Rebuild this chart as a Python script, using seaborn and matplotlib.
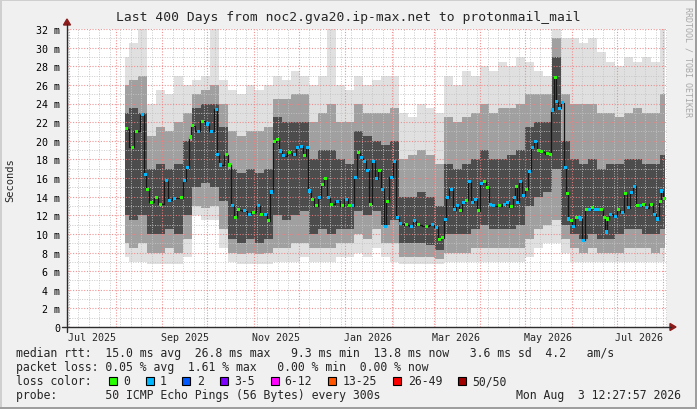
import numpy as np
import pandas as pd
import matplotlib
matplotlib.use("Agg")
import matplotlib.pyplot as plt
import matplotlib.dates as mdates
import seaborn as sns
from matplotlib.lines import Line2D
from matplotlib.patches import Rectangle, Polygon
from matplotlib.ticker import FixedLocator, NullFormatter

# ---------------- data ----------------
title = "Last 400 Days from noc2.gva20.ip-max.net to protonmail_mail"
range_start = "2025-06-29 12:27:57"
range_end = "2026-08-03 12:27:57"

# smoke (ping distribution) sampled every 6 days
smoke_dates = pd.date_range("2025-08-07", "2026-08-02", freq="6D")
smoke_min = [7.5, 7.0, 7.0, 6.8, 6.8, 6.8, 6.8, 7.5, 12.0, 11.5,
             11.5, 8.5, 7.0, 6.8, 6.8, 6.8, 6.8, 7.0, 7.0, 7.0,
             7.5, 7.0, 7.0, 7.0, 7.5, 7.5, 8.0, 7.5, 8.5, 7.5,
             7.0, 6.8, 6.8, 6.8, 6.8, 6.8, 7.0, 7.0, 7.0, 7.0,
             7.0, 7.0, 7.0, 7.0, 7.0, 7.5, 8.5, 9.0, 9.0, 8.0,
             7.0, 7.0, 7.0, 7.0, 7.0, 7.0, 7.0, 7.0, 7.0, 7.0, 7.0]
smoke_p10 = [9.0, 8.5, 9.0, 8.0, 8.0, 8.5, 8.0, 9.5, 13.0, 12.8,
             13.0, 10.5, 8.0, 7.8, 8.0, 7.8, 8.0, 8.5, 8.5, 9.0,
             9.0, 8.5, 8.5, 8.5, 9.0, 9.0, 10.0, 9.5, 10.5, 9.0,
             9.0, 7.5, 7.5, 7.5, 7.5, 7.3, 8.0, 8.0, 8.0, 8.5,
             8.5, 8.5, 8.5, 8.5, 8.5, 9.5, 10.5, 11.0, 11.5, 9.5,
             8.5, 8.0, 8.5, 8.0, 8.0, 8.0, 8.5, 8.5, 8.5, 8.0, 8.5]
smoke_p25 = [12.0, 11.5, 12.0, 10.0, 10.0, 10.5, 10.0, 12.0, 15.0, 15.5,
             15.0, 13.5, 9.5, 9.0, 9.5, 9.0, 9.5, 12.0, 11.5, 12.0,
             12.5, 10.0, 10.5, 10.0, 10.5, 10.5, 12.5, 12.0, 12.5, 11.0,
             11.5, 9.0, 9.0, 9.0, 8.8, 8.3, 10.0, 10.0, 10.0, 10.5,
             11.0, 10.5, 10.5, 10.5, 11.0, 13.0, 14.0, 14.5, 17.0, 11.0,
             10.0, 9.5, 10.0, 9.5, 9.5, 10.0, 10.5, 10.5, 10.0, 10.0, 10.5]
smoke_p75 = [23.0, 23.5, 23.0, 17.0, 17.5, 17.0, 17.5, 20.0, 23.5, 24.0,
             24.0, 21.5, 17.0, 16.5, 17.0, 16.5, 17.0, 22.5, 22.0, 22.0,
             22.0, 18.0, 19.0, 19.0, 18.0, 17.5, 21.0, 20.5, 20.0, 19.5,
             20.0, 14.0, 14.0, 14.5, 14.0, 13.0, 17.5, 17.0, 17.5, 18.0,
             19.0, 18.0, 18.0, 18.5, 19.0, 21.5, 22.0, 22.0, 29.0, 20.0,
             18.0, 17.5, 18.0, 17.0, 17.5, 17.5, 18.0, 18.0, 17.5, 17.5, 18.5]
smoke_p90 = [26.0, 26.5, 27.0, 20.5, 21.5, 21.0, 22.0, 23.0, 25.0, 25.5,
             26.0, 24.0, 21.0, 20.5, 21.0, 21.0, 21.5, 24.5, 24.5, 25.0,
             25.0, 22.0, 23.0, 24.0, 22.0, 22.0, 24.0, 23.0, 23.0, 23.0,
             23.5, 18.0, 18.5, 19.0, 18.5, 17.5, 22.5, 22.0, 22.5, 23.0,
             24.0, 23.0, 23.5, 23.5, 24.0, 25.0, 25.0, 25.0, 31.0, 25.0,
             24.0, 24.0, 24.0, 23.0, 23.0, 22.5, 23.0, 23.5, 23.0, 23.0, 25.0]
smoke_max = [29.0, 30.5, 32.0, 24.0, 25.5, 25.0, 27.0, 26.0, 26.5, 27.0,
             32.0, 26.5, 25.5, 25.0, 26.0, 25.5, 26.0, 27.0, 26.5, 27.5,
             27.0, 26.0, 27.0, 32.0, 26.0, 25.5, 27.0, 26.0, 26.5, 27.0,
             27.0, 23.0, 22.5, 24.0, 23.5, 23.0, 27.0, 26.0, 27.5, 27.0,
             28.0, 27.5, 28.5, 28.0, 29.0, 28.5, 27.5, 27.0, 32.0, 31.0,
             31.0, 30.5, 31.0, 29.5, 28.5, 28.0, 29.0, 28.5, 29.0, 28.5, 32.0]

# median rtt (ms) and number of lost pings
median_dates = [
    "2025-08-08", "2025-08-12", "2025-08-15", "2025-08-19", "2025-08-21", "2025-08-22", "2025-08-25", "2025-08-28", "2025-08-31", "2025-09-04",
    "2025-09-06", "2025-09-09", "2025-09-14", "2025-09-16", "2025-09-18", "2025-09-20", "2025-09-21", "2025-09-25", "2025-09-28", "2025-10-01",
    "2025-10-04", "2025-10-07", "2025-10-08", "2025-10-10", "2025-10-14", "2025-10-16", "2025-10-18", "2025-10-20", "2025-10-22", "2025-10-26",
    "2025-10-29", "2025-11-01", "2025-11-04", "2025-11-06", "2025-11-09", "2025-11-11", "2025-11-13", "2025-11-15", "2025-11-17", "2025-11-19",
    "2025-11-21", "2025-11-25", "2025-11-28", "2025-11-30", "2025-12-03", "2025-12-05", "2025-12-07", "2025-12-08", "2025-12-10", "2025-12-13",
    "2025-12-15", "2025-12-17", "2025-12-19", "2025-12-21", "2025-12-23", "2025-12-27", "2025-12-30", "2026-01-02", "2026-01-04", "2026-01-06",
    "2026-01-08", "2026-01-10", "2026-01-12", "2026-01-14", "2026-01-16", "2026-01-18", "2026-01-20", "2026-01-22", "2026-01-24", "2026-01-26",
    "2026-01-28", "2026-01-29", "2026-02-01", "2026-02-03", "2026-02-05", "2026-02-07", "2026-02-11", "2026-02-14", "2026-02-16", "2026-02-19",
    "2026-02-24", "2026-02-28", "2026-03-03", "2026-03-05", "2026-03-07", "2026-03-09", "2026-03-10", "2026-03-13", "2026-03-15", "2026-03-17",
    "2026-03-19", "2026-03-21", "2026-03-23", "2026-03-25", "2026-03-27", "2026-03-29", "2026-03-31", "2026-04-02", "2026-04-04", "2026-04-06",
    "2026-04-08", "2026-04-10", "2026-04-14", "2026-04-17", "2026-04-19", "2026-04-22", "2026-04-24", "2026-04-25", "2026-04-26", "2026-04-28",
    "2026-04-30", "2026-05-02", "2026-05-04", "2026-05-06", "2026-05-08", "2026-05-10", "2026-05-12", "2026-05-16", "2026-05-18", "2026-05-19",
    "2026-05-21", "2026-05-22", "2026-05-24", "2026-05-26", "2026-05-28", "2026-05-29", "2026-05-30", "2026-06-01", "2026-06-02", "2026-06-04",
    "2026-06-06", "2026-06-07", "2026-06-09", "2026-06-11", "2026-06-13", "2026-06-15", "2026-06-17", "2026-06-19", "2026-06-21", "2026-06-23",
    "2026-06-24", "2026-06-25", "2026-06-27", "2026-06-30", "2026-07-02", "2026-07-05", "2026-07-07", "2026-07-09", "2026-07-11", "2026-07-13",
    "2026-07-15", "2026-07-17", "2026-07-19", "2026-07-21", "2026-07-24", "2026-07-26", "2026-07-28", "2026-07-30", "2026-07-31", "2026-08-02",
]
median_ms = [
    21.3, 19.3, 21.0, 22.8, 16.4, 14.8, 13.4, 13.9, 13.2, 15.7,
    13.6, 13.8, 13.9, 15.7, 17.1, 20.4, 21.6, 21.0, 22.1, 21.8,
    21.0, 23.4, 18.5, 17.4, 18.5, 17.4, 13.0, 11.8, 12.6, 12.5,
    12.1, 12.3, 13.0, 12.1, 12.1, 11.4, 14.5, 19.9, 20.1, 18.9,
    18.4, 18.7, 18.5, 19.3, 19.4, 18.4, 19.3, 14.6, 13.7, 13.0,
    13.9, 15.3, 15.9, 13.9, 13.2, 13.5, 13.0, 13.7, 13.0, 13.0,
    16.1, 18.7, 18.2, 17.8, 16.8, 13.2, 17.8, 15.9, 16.8, 14.8,
    10.8, 13.5, 16.1, 17.8, 11.8, 11.1, 11.0, 10.8, 11.4, 11.0,
    10.8, 11.0, 10.7, 9.4, 9.6, 11.5, 13.9, 14.8, 12.6, 13.0,
    12.5, 13.4, 13.6, 15.6, 13.4, 13.7, 12.5, 15.4, 15.6, 15.0,
    13.2, 13.0, 13.0, 13.2, 13.4, 12.9, 13.9, 15.1, 13.4, 15.6,
    14.1, 14.8, 16.7, 19.3, 19.9, 19.0, 18.8, 18.6, 18.5, 23.3,
    26.8, 24.2, 23.5, 24.1, 17.1, 14.3, 11.6, 11.4, 10.8, 11.8,
    11.8, 11.6, 9.3, 12.6, 12.6, 12.8, 12.6, 12.6, 12.6, 11.8,
    10.2, 11.6, 12.1, 11.9, 12.6, 12.3, 14.3, 12.8, 14.4, 15.1,
    13.0, 13.0, 13.2, 12.8, 13.2, 12.1, 11.6, 13.5, 14.6, 13.8,
]
median_loss = [
    0, 0, 0, 1, 1, 0, 0, 0, 0, 1,
    1, 1, 0, 1, 1, 0, 0, 1, 0, 1,
    1, 1, 1, 1, 0, 0, 1, 0, 0, 1,
    1, 0, 1, 0, 1, 0, 1, 0, 0, 1,
    1, 0, 1, 1, 1, 0, 1, 1, 0, 0,
    1, 0, 0, 1, 0, 1, 0, 1, 0, 1,
    1, 0, 1, 1, 1, 0, 1, 1, 0, 1,
    1, 0, 1, 1, 1, 1, 0, 1, 1, 0,
    0, 1, 1, 0, 0, 1, 1, 1, 1, 1,
    0, 1, 0, 1, 1, 1, 0, 1, 0, 0,
    1, 1, 0, 1, 1, 0, 1, 0, 1, 1,
    1, 0, 1, 1, 1, 0, 0, 0, 0, 1,
    0, 1, 1, 1, 1, 0, 1, 0, 1, 0,
    1, 1, 1, 0, 1, 0, 1, 1, 0, 0,
    1, 0, 1, 1, 0, 1, 0, 1, 1, 1,
    0, 1, 0, 1, 0, 1, 1, 0, 1, 0,
]

y_ticks = list(range(0, 33, 2))
y_tick_labels = ["0"] + [f"{v} m" for v in y_ticks[1:]]
month_label_dates = ["2025-07-16", "2025-09-16", "2025-11-16", "2026-01-16",
                     "2026-03-16", "2026-05-16", "2026-07-16"]
month_labels = ["Jul 2025", "Sep 2025", "Nov 2025", "Jan 2026",
                "Mar 2026", "May 2026", "Jul 2026"]

loss_names = ["0", "1", "2", "3-5", "6-12", "13-25", "26-49", "50/50"]
loss_colors = ["#26ff00", "#00b8ff", "#0059ff", "#7e00ff",
               "#ff00ff", "#ff5500", "#ff0000", "#a00000"]

line_rtt = "median rtt:  15.0 ms avg  26.8 ms max   9.3 ms min  13.8 ms now   3.6 ms sd  4.2   am/s"
line_loss = "packet loss: 0.05 % avg  1.61 % max   0.00 % min  0.00 % now"
probe_text = "probe:       50 ICMP Echo Pings (56 Bytes) every 300s"
stamp_text = "Mon Aug  3 12:27:57 2026"

# ---------------- figure ----------------
sns.set_theme(style="white")
plt.rcParams["font.family"] = ["DejaVu Sans Mono", "DejaVu Sans"]

W, H = 697, 410
fig = plt.figure(figsize=(W / 100, H / 100), dpi=100, facecolor="#f0f0f0")

def fx(px):
    return px / W

def fy(py):
    return 1 - py / H

ax = fig.add_axes([fx(67), fy(328), 600 / W, 298 / H])
ax.set_facecolor("white")

sx = mdates.date2num(smoke_dates)
ax.fill_between(sx, smoke_min, smoke_max, step="mid", color="#e0e0e0", lw=0, zorder=1)
ax.fill_between(sx, smoke_p10, smoke_p90, step="mid", color="#a0a0a0", lw=0, zorder=1.1)
ax.fill_between(sx, smoke_p25, smoke_p75, step="mid", color="#4c4c4c", lw=0, zorder=1.2)

med = pd.DataFrame({"date": pd.to_datetime(median_dates), "ms": median_ms,
                    "loss": [loss_names[v] for v in median_loss]})
sns.lineplot(data=med, x="date", y="ms", ax=ax, color="#151515", lw=0.9,
             drawstyle="steps-mid", estimator=None, sort=False, zorder=3)
sns.scatterplot(data=med, x="date", y="ms", hue="loss", ax=ax,
                palette={loss_names[0]: loss_colors[0], loss_names[1]: loss_colors[1]},
                marker="s", s=5, linewidth=0, legend=False, zorder=4)

ax.set_xlim(pd.Timestamp(range_start), pd.Timestamp(range_end))
ax.set_ylim(0, 32)
ax.set_xlabel("")
ax.set_ylabel("")

# grid
ax.set_axisbelow(False)
ax.xaxis.set_major_locator(mdates.MonthLocator())
ax.xaxis.set_minor_locator(mdates.WeekdayLocator(byweekday=mdates.MO))
ax.xaxis.set_major_formatter(NullFormatter())
ax.yaxis.set_major_locator(FixedLocator(y_ticks))
ax.yaxis.set_minor_locator(FixedLocator(list(range(1, 32, 2))))
ax.set_yticklabels(y_tick_labels)
ax.grid(which="minor", color="#c4c4c4", linestyle=(0, (1, 1.5)), lw=0.7, alpha=0.9)
ax.grid(which="major", color="#f08080", linestyle=(0, (1, 1.5)), lw=0.8, alpha=0.85)
ax.tick_params(which="both", length=0)
ax.tick_params(axis="y", labelsize=7.2, pad=5, colors="black")
for s in ax.spines.values():
    s.set_visible(False)

for d, lab in zip(month_label_dates, month_labels):
    ax.text(mdates.date2num(pd.Timestamp(d)), -10 / 298 * 32, lab,
            ha="center", va="center", fontsize=7.2, clip_on=False)

# axes lines and arrows
axis_col = "#2c2c2c"
arrow_col = "#8c1c1c"
fig.add_artist(Line2D([fx(62), fx(671)], [fy(328), fy(328)], color=axis_col, lw=1.0,
                      transform=fig.transFigure))
fig.add_artist(Line2D([fx(67), fx(67)], [fy(333), fy(25)], color=axis_col, lw=1.0,
                      transform=fig.transFigure))
fig.add_artist(Polygon([[fx(670), fy(324.5)], [fx(676), fy(328)], [fx(670), fy(331.5)]],
                       closed=True, color=arrow_col, transform=fig.transFigure))
fig.add_artist(Polygon([[fx(63.5), fy(26)], [fx(67), fy(20)], [fx(70.5), fy(26)]],
                       closed=True, color=arrow_col, transform=fig.transFigure))

# texts
fig.text(fx(348.5), fy(18), title, ha="center", va="center", fontsize=9.4)
fig.text(fx(10), fy(180), "Seconds", rotation=90, ha="center", va="center", fontsize=7.5)
fig.text(fx(688), fy(62), "RRDTOOL / TOBI OETIKER", rotation=270, ha="center",
         va="center", fontsize=6.0, color="#a8a8a8")

fs = 8.3
fig.text(fx(16), fy(354), line_rtt, va="center", fontsize=fs)
fig.text(fx(16), fy(368), line_loss, va="center", fontsize=fs)
fig.text(fx(16), fy(382), "loss color:", va="center", fontsize=fs)
for xb, xt, t, c in zip([109, 146, 182, 220, 271, 328, 393, 458],
                        [123, 160, 197, 234, 284, 343, 408, 472],
                        loss_names, loss_colors):
    fig.add_artist(Rectangle((fx(xb), fy(386)), 8 / W, 8 / H, facecolor=c,
                             edgecolor="black", lw=0.8, transform=fig.transFigure))
    fig.text(fx(xt), fy(382), t, va="center", fontsize=fs)
fig.text(fx(16), fy(396), probe_text, va="center", fontsize=fs)
fig.text(fx(681), fy(396), stamp_text, va="center", ha="right", fontsize=fs)

# 3D frame
fig.add_artist(Rectangle((0, fy(2)), 1, 2 / H, color="#cfcfcf", transform=fig.transFigure, lw=0))
fig.add_artist(Rectangle((0, 0), 2 / W, 1, color="#cfcfcf", transform=fig.transFigure, lw=0))
fig.add_artist(Rectangle((0, 0), 1, 2 / H, color="#9e9e9e", transform=fig.transFigure, lw=0))
fig.add_artist(Rectangle((fx(695), 0), 2 / W, 1, color="#9e9e9e", transform=fig.transFigure, lw=0))

fig.savefig("out.png", dpi=100, facecolor=fig.get_facecolor())
